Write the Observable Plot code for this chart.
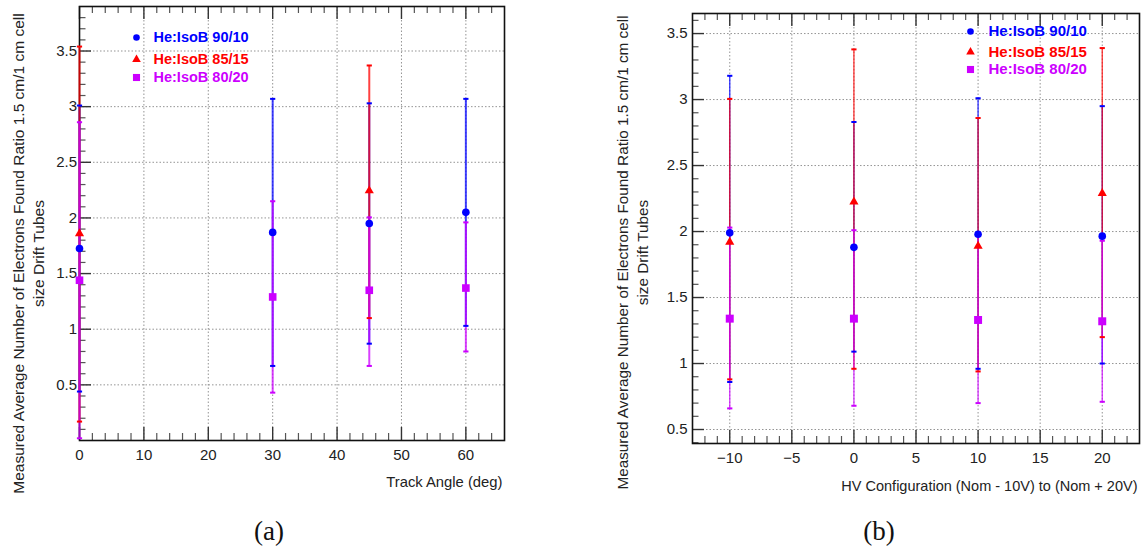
<!DOCTYPE html>
<html><head><meta charset="utf-8">
<script src="https://cdn.jsdelivr.net/npm/d3@7"></script>
<script src="https://cdn.jsdelivr.net/npm/@observablehq/plot@0.6"></script>
<style>
body{margin:0;background:#fff;}
#wrap{position:relative;width:1142px;height:557px;overflow:hidden;background:#fff;}
#wrap svg{position:absolute;top:0;overflow:visible;}
.cap{position:absolute;top:516px;width:60px;text-align:center;font-family:"Liberation Serif","DejaVu Serif",serif;font-size:27px;color:#111;line-height:30px;}
</style></head><body><div id="wrap"></div>
<script>
// ---------- shared series ----------
const seriesNames = ["He:IsoB 90/10", "He:IsoB 85/15", "He:IsoB 80/20"];
const seriesColors = ["#0000ff", "#ff0000", "#cc00ff"];
const seriesSymbols = ["circle", "triangle", "square"];

// ---------- panel (a): track angle ----------
const angleA = [0, 30, 45, 60];
const a9010Y  = [1.725, 1.87, 1.95, 2.05];
const a9010Lo = [0.44, 0.67, 0.87, 1.03];
const a9010Hi = [3.01, 3.07, 3.03, 3.07];
const angleA8515 = [0, 45];
const a8515Y  = [1.86, 2.245];
const a8515Lo = [0.17, 1.10];
const a8515Hi = [3.54, 3.37];
const a8020Y  = [1.44, 1.29, 1.35, 1.37];
const a8020Lo = [0.02, 0.43, 0.67, 0.80];
const a8020Hi = [2.86, 2.15, 2.005, 1.96];
const xLabelA = "Track Angle (deg)";

// ---------- panel (b): HV configuration ----------
const hvB = [-10, 0, 10, 20];
const b9010Y  = [1.99, 1.88, 1.98, 1.965];
const b9010Lo = [0.86, 1.09, 0.96, 1.00];
const b9010Hi = [3.18, 2.83, 3.01, 2.95];
const b8515Y  = [1.92, 2.225, 1.89, 2.29];
const b8515Lo = [0.88, 0.96, 0.94, 1.20];
const b8515Hi = [3.005, 3.38, 2.86, 3.39];
const b8020Y  = [1.34, 1.34, 1.33, 1.32];
const b8020Lo = [0.66, 0.68, 0.70, 0.71];
const b8020Hi = [2.03, 2.01, 1.98, 1.93];
const xLabelB = "HV Configuration (Nom - 10V) to (Nom + 20V)";

const yLabel = "Measured Average Number of Electrons Found Ratio 1.5 cm/1 cm cell\nsize Drift Tubes";

function rows(xs, ys, los, his) {
  return xs.map((x, i) => ({x, y: ys[i], lo: los[i], hi: his[i]}));
}

const capSymbol = {draw(ctx, size) { const r = Math.sqrt(size / Math.PI); ctx.moveTo(-r, 0); ctx.lineTo(r, 0); }};
const FONT = "'Liberation Sans', Arial, sans-serif";

function panel(cfg) {
  const H = cfg.height - cfg.mt - cfg.mb;
  const W = cfg.width - cfg.ml - cfg.mr;
  const marks = [];
  // grid
  marks.push(Plot.gridX(cfg.xMajor, {stroke: "#888", strokeOpacity: 0.9, strokeDasharray: "1.5,2"}));
  marks.push(Plot.gridY(cfg.yMajor, {stroke: "#888", strokeOpacity: 0.9, strokeDasharray: "1.5,2"}));
  // inside ticks (bottom, top, left)
  marks.push(Plot.tickX(cfg.xMajor, {x: d => d, insetTop: H - 13, stroke: "#333", strokeWidth: 1.4}));
  marks.push(Plot.tickX(cfg.xMinor, {x: d => d, insetTop: H - 7, stroke: "#555", strokeWidth: 1.2}));
  marks.push(Plot.tickX(cfg.xMajor, {x: d => d, insetBottom: H - 13, stroke: "#333", strokeWidth: 1.4}));
  marks.push(Plot.tickX(cfg.xMinor, {x: d => d, insetBottom: H - 7, stroke: "#555", strokeWidth: 1.2}));
  marks.push(Plot.tickY(cfg.yMajor, {y: d => d, insetRight: W - 12, stroke: "#333", strokeWidth: 1.4}));
  marks.push(Plot.tickY(cfg.yMinor, {y: d => d, insetRight: W - 6.5, stroke: "#555", strokeWidth: 1.2}));
  marks.push(Plot.frame({stroke: "#111", strokeWidth: 1.6}));
  // tick labels
  marks.push(Plot.axisX(cfg.xMajor, {tickSize: 0, tickPadding: cfg.xPad, label: null, fill: "#222", fontSize: cfg.tickFont, fontFamily: FONT, tickFormat: d => d3.format("")(d)}));
  marks.push(Plot.axisY(cfg.yMajor, {tickSize: 0, tickPadding: cfg.yPad, label: null, fill: "#222", fontSize: cfg.tickFont, fontFamily: FONT, tickFormat: d => String(d)}));
  // error bars and points
  cfg.series.forEach((s, i) => {
    marks.push(Plot.ruleX(s, {x: "x", y1: "lo", y2: "hi", stroke: seriesColors[i], strokeWidth: cfg.barWidth, strokeOpacity: 0.75}));
  });
  cfg.series.forEach((s, i) => {
    const caps = s.flatMap(d => [{x: d.x, y: d.lo}, {x: d.x, y: d.hi}]);
    marks.push(Plot.dot(caps, {x: "x", y: "y", symbol: capSymbol, r: 2.6, stroke: seriesColors[i], strokeWidth: 2, fill: "none"}));
  });
  cfg.series.forEach((s, i) => {
    marks.push(Plot.dot(s, {x: "x", y: "y", symbol: seriesSymbols[i], r: cfg.symR[i], fill: seriesColors[i], stroke: "none"}));
  });
  // legend
  seriesNames.forEach((name, i) => {
    marks.push(Plot.dot([name], {frameAnchor: "top-left", dx: cfg.legX, dy: cfg.legY[i], symbol: seriesSymbols[i], r: cfg.legR[i], fill: seriesColors[i]}));
    marks.push(Plot.text([name], {frameAnchor: "top-left", dx: cfg.legTX, dy: cfg.legY[i], text: d => d, textAnchor: "start", lineAnchor: "middle", fill: seriesColors[i], fontWeight: "bold", fontSize: cfg.legFont, fontFamily: FONT}));
  });
  // axis titles
  marks.push(Plot.text([cfg.xLabel], {frameAnchor: "bottom-right", text: d => d, textAnchor: "end", lineAnchor: "middle", dx: -2, dy: cfg.xTitleDy, fontSize: cfg.titleFont, fontFamily: FONT, fill: "#222"}));
  marks.push(Plot.text([yLabel], {frameAnchor: "left", text: d => d, rotate: -90, textAnchor: "middle", lineAnchor: "middle", lineHeight: 1.3, dx: cfg.yTitleDx, dy: cfg.yTitleDy, fontSize: cfg.yTitleFont, fontFamily: FONT, fill: "#222"}));

  const svg = Plot.plot({
    width: cfg.width, height: cfg.height,
    marginLeft: cfg.ml, marginRight: cfg.mr, marginTop: cfg.mt, marginBottom: cfg.mb,
    style: {fontFamily: FONT, fontSize: "14px", background: "transparent", overflow: "visible"},
    x: {domain: cfg.xDomain, axis: null},
    y: {domain: cfg.yDomain, axis: null},
    marks
  });
  svg.style.left = cfg.left + "px";
  return svg;
}

const wrap = document.getElementById("wrap");

const svgA = panel({
  left: 0, width: 571, height: 557, ml: 79, mr: 67, mt: 6, mb: 117,
  xDomain: [0, 66], yDomain: [0, 3.9],
  xMajor: d3.range(0, 61, 10), xMinor: d3.range(2, 66, 2).filter(v => v % 10 !== 0),
  yMajor: [0.5, 1, 1.5, 2, 2.5, 3, 3.5], yMinor: d3.range(1, 39).map(v => v / 10).filter(v => Math.round(v * 10) % 5 !== 0),
  series: [rows(angleA, a9010Y, a9010Lo, a9010Hi), rows(angleA8515, a8515Y, a8515Lo, a8515Hi), rows(angleA, a8020Y, a8020Lo, a8020Hi)],
  barWidth: 2, symR: [3.8, 3.4, 4.3], legR: [3.3, 3.2, 4.0],
  legX: 57, legTX: 74, legY: [31, 53, 71], legFont: 14.5,
  tickFont: 15, xPad: 9, yPad: 2.5, titleFont: 14.8, xTitleDy: 42,
  yTitleFont: 15.5, yTitleDx: -52, yTitleDy: 30,
  xLabel: xLabelA
});
wrap.appendChild(svgA);

const svgB = panel({
  left: 571, width: 571, height: 557, ml: 121, mr: 3, mt: 13, mb: 114,
  xDomain: [-13, 23], yDomain: [0.394, 3.652],
  xMajor: d3.range(-10, 21, 5), xMinor: d3.range(-12, 23, 1).filter(v => v % 5 !== 0),
  yMajor: [0.5, 1, 1.5, 2, 2.5, 3, 3.5], yMinor: d3.range(4, 37).map(v => v / 10).filter(v => Math.round(v * 10) % 5 !== 0),
  series: [rows(hvB, b9010Y, b9010Lo, b9010Hi), rows(hvB, b8515Y, b8515Lo, b8515Hi), rows(hvB, b8020Y, b8020Lo, b8020Hi)],
  barWidth: 1.4, symR: [3.8, 3.4, 4.5], legR: [3.3, 3.2, 4.0],
  legX: 278, legTX: 296, legY: [18, 38.5, 56], legFont: 15,
  tickFont: 15, xPad: 8.5, yPad: 5, titleFont: 14.5, xTitleDy: 43,
  yTitleFont: 15.3, yTitleDx: -61, yTitleDy: 24,
  xLabel: xLabelB
});
wrap.appendChild(svgB);

const capA = document.createElement("div");
capA.className = "cap"; capA.style.left = (269 - 30) + "px"; capA.textContent = "(a)";
const capB = document.createElement("div");
capB.className = "cap"; capB.style.left = (879 - 30) + "px"; capB.textContent = "(b)";
wrap.appendChild(capA); wrap.appendChild(capB);
</script>
</body></html>
